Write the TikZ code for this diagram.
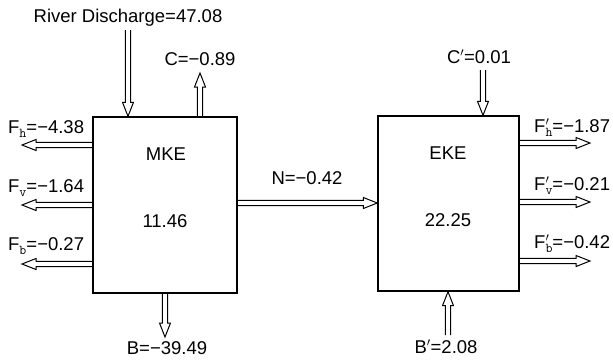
\documentclass[tikz,border=0pt]{standalone}
\usepackage{fontspec}
\setmainfont{Liberation Sans}
\usetikzlibrary{calc}
\newcommand{\lowtt}[1]{\raisebox{-4.5pt}{\fontsize{13.5}{13.5}\selectfont\ttfamily #1}}
\tikzset{
  box/.style={rectangle,draw=black,line width=1.4pt,inner sep=0pt},
  flux/.style={draw=black,line width=1pt,line join=miter,
    to path={($(\tikztostart)!2.6pt!90:(\tikztotarget)$)
      -- ($(\tikztotarget)!14pt!(\tikztostart)!2.6pt!-90:(\tikztostart)$)
      -- ($(\tikztotarget)!14pt!(\tikztostart)!5.5pt!-90:(\tikztostart)$)
      -- (\tikztotarget)
      -- ($(\tikztotarget)!14pt!(\tikztostart)!5.5pt!90:(\tikztostart)$)
      -- ($(\tikztotarget)!14pt!(\tikztostart)!2.6pt!90:(\tikztostart)$)
      -- ($(\tikztostart)!2.6pt!-90:(\tikztotarget)$)}},
  lbl/.style={anchor=base,inner sep=0pt},
  lbll/.style={anchor=base west,inner sep=0pt},
}
\begin{document}
\begin{tikzpicture}[x=1pt,y=-1pt,font=\fontsize{18.5}{21}\selectfont]
  \useasboundingbox[fill=white] (0,0) rectangle (613,360);
  % the two reservoirs
  \node[box,minimum width=144pt,minimum height=176pt] (mke) at (165,205) {};
  \node[box,minimum width=141pt,minimum height=175pt] (eke) at (448.5,203.5) {};
  \node[lbl] (mkename) at (166,160) {MKE};
  \node[lbl] (mkeval) at (165,227) {11.46};
  \node[lbl] (ekename) at (448,159) {EKE};
  \node[lbl] (ekeval) at (448,226) {22.25};
  % MKE budget
  \coordinate (rd) at (128,30);
  \coordinate (c) at (200,73);
  \coordinate (b) at (165,337);
  \draw[flux] (rd) to (rd |- mke.north);
  \draw[flux] (c |- mke.north) to (c);
  \draw[flux] (b |- mke.south) to (b);
  \node[lbl] (rdlbl) at (128,22) {River Discharge=47.08};
  \node[lbl] (clbl) at (200,65) {C=−0.89};
  \node[lbl] (blbl) at (167,354) {B=−39.49};
  \foreach \yy/\nm in {145/fh,205/fv,264/fb} {
    \coordinate (\nm) at (22,\yy);
    \draw[flux] (mke.west |- \nm) to (\nm);
  }
  \node[lbll] (fhlbl) at (8,133) {F\lowtt{h}=−4.38};
  \node[lbll] (fvlbl) at (8,192) {F\lowtt{v}=−1.64};
  \node[lbll] (fblbl) at (8,250) {F\lowtt{b}=−0.27};
  % transfer MKE -> EKE
  \coordinate (n) at (300,203);
  \draw[flux] (mke.east |- n) to (eke.west |- n);
  \node[lbl] (nlbl) at (307,184) {N=−0.42};
  % EKE budget
  \coordinate (cp) at (483,70);
  \coordinate (bp) at (448,335);
  \draw[flux] (cp) to (cp |- eke.north);
  \draw[flux] (bp) to (bp |- eke.south);
  \node[lbl] (cplbl) at (479,63) {C$'$=0.01};
  \node[lbl] (bplbl) at (446,353) {B$'$=2.08};
  \foreach \yy/\nm in {143/fhp,202/fvp,261/fbp} {
    \coordinate (\nm) at (590,\yy);
    \draw[flux] (eke.east |- \nm) to (\nm);
  }
  \node[lbll] (fhplbl) at (534,132) {F\rlap{$'$}\lowtt{h}=−1.87};
  \node[lbll] (fvplbl) at (534,190) {F\rlap{$'$}\lowtt{v}=−0.21};
  \node[lbll] (fbplbl) at (534,248) {F\rlap{$'$}\lowtt{b}=−0.42};
\end{tikzpicture}
\end{document}
